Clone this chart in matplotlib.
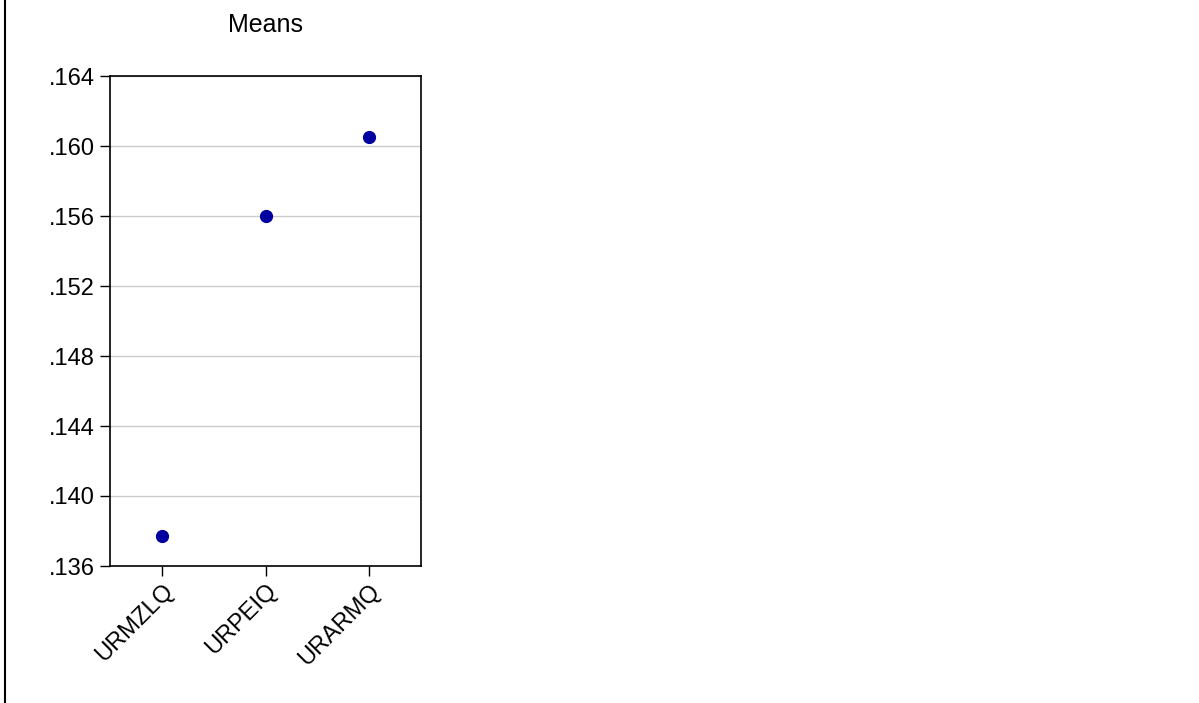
import matplotlib
matplotlib.use("Agg")
import matplotlib.pyplot as plt
from matplotlib.lines import Line2D

# Series means
categories = ["URMZLQ", "URPEIQ", "URARMQ"]
means = [0.1377, 0.1560, 0.1605]
yticks = [0.136, 0.140, 0.144, 0.148, 0.152, 0.156, 0.160, 0.164]

plt.rcParams["font.family"] = ["Liberation Sans", "DejaVu Sans"]

W, H = 1199, 703
fig = plt.figure(figsize=(W / 100, H / 100), dpi=100)
ax = fig.add_axes([110 / W, 1 - 566 / H, 311 / W, 490 / H])

ax.plot(range(len(categories)), means, "o", color="#0000a0", markersize=8.5, zorder=3)

ax.set_xlim(-0.5, len(categories) - 0.5)
ax.set_ylim(yticks[0], yticks[-1])
ax.set_yticks(yticks)
ax.set_yticklabels([f"{v:.3f}"[1:] for v in yticks])
ax.set_xticks(range(len(categories)))
ax.set_xticklabels(categories, rotation=45, ha="right", rotation_mode="anchor")
ax.tick_params(labelsize=17, length=7, width=1, colors="black", pad=4)
ax.tick_params(axis="x", pad=3)
ax.yaxis.grid(True, color="#cccccc", linewidth=1)
ax.set_axisbelow(True)
for s in ax.spines.values():
    s.set_linewidth(1.2)

fig.text(265 / W, 1 - 25 / H, "Means", ha="center", va="center", fontsize=18)

# left frame line of the graph window
fig.add_artist(Line2D([5 / W, 5 / W], [0, 1], color="black", linewidth=1.5,
                      transform=fig.transFigure))

fig.savefig("out.png", dpi=100)
